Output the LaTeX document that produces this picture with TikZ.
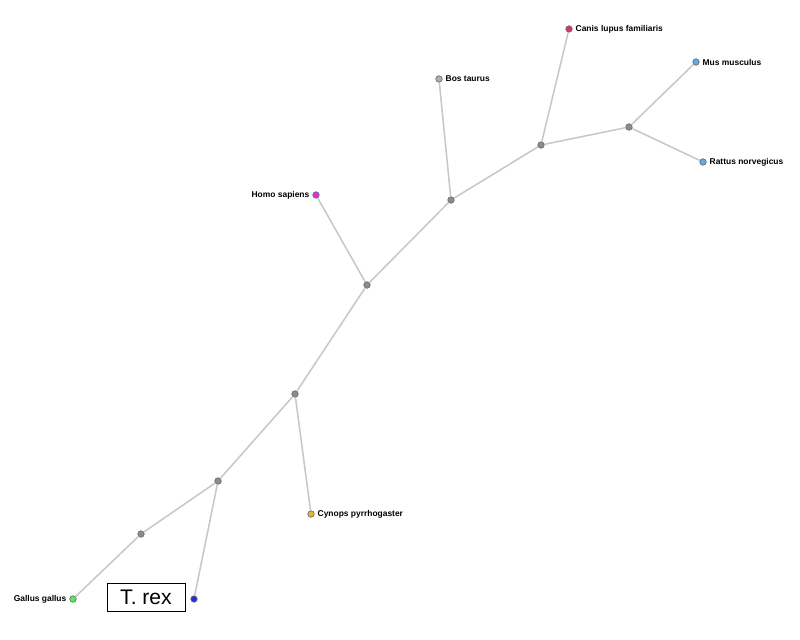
\documentclass[tikz,border=0pt]{standalone}
\usepackage{fontspec}
\setsansfont{Liberation Sans}
\definecolor{branchgray}{HTML}{C8C8C8}
\definecolor{dotgray}{HTML}{8C8C8C}
\begin{document}
\begin{tikzpicture}[x=0.025cm, y=-0.025cm,
  branch/.style={draw=branchgray, line width=1.1pt},
  dot/.style={circle, draw=dotgray!80!black, line width=0.5pt, inner sep=0pt, minimum size=4.6pt},
  taxon/.style={font=\sffamily\bfseries\fontsize{6}{7}\selectfont, inner sep=2pt}]
\useasboundingbox[fill=white] (0,0) rectangle (800,639);
% inner nodes
\node[dot, fill=dotgray] (rodents) at (629,127) {};
\node[dot, fill=dotgray] (carnrod) at (541,145) {};
\node[dot, fill=dotgray] (cowdog) at (451,200) {};
\node[dot, fill=dotgray] (mammals) at (367,285) {};
\node[dot, fill=dotgray] (tetra) at (295,394) {};
\node[dot, fill=dotgray] (sauria) at (218,481) {};
\node[dot, fill=dotgray] (birds) at (141,534) {};
% leaves
\node[dot, fill={rgb,255:red,224;green,48;blue,106}, label={[taxon]right:Canis lupus familiaris}] (canis) at (569,29) {};
\node[dot, fill={rgb,255:red,96;green,170;blue,236}, label={[taxon]right:Mus musculus}] (mus) at (696,62) {};
\node[dot, fill={rgb,255:red,96;green,170;blue,236}, label={[taxon]right:Rattus norvegicus}] (rattus) at (703,162) {};
\node[dot, fill=dotgray!70, label={[taxon]right:Bos taurus}] (bos) at (439,79) {};
\node[dot, fill={rgb,255:red,232;green,40;blue,232}, label={[taxon]left:Homo sapiens}] (homo) at (316,195) {};
\node[dot, fill={rgb,255:red,222;green,186;blue,48}, label={[taxon]right:Cynops pyrrhogaster}] (cynops) at (311,514) {};
\node[dot, fill={rgb,255:red,80;green,240;blue,80}, label={[taxon]left:Gallus gallus}] (gallus) at (73,599) {};
\node[dot, fill={rgb,255:red,40;green,40;blue,230}] (trex) at (194,599) {};
% label box
\node[draw=black, line width=0.6pt, font=\sffamily\fontsize{15}{17}\selectfont, minimum width=1.95cm, minimum height=0.7cm, inner sep=2pt] (trexlabel) at (146,597) {T. rex};
% branches
\draw[branch] (rodents) -- (mus);
\draw[branch] (rodents) -- (rattus);
\draw[branch] (carnrod) -- (rodents);
\draw[branch] (carnrod) -- (canis);
\draw[branch] (cowdog) -- (carnrod);
\draw[branch] (cowdog) -- (bos);
\draw[branch] (mammals) -- (cowdog);
\draw[branch] (mammals) -- (homo);
\draw[branch] (tetra) -- (mammals);
\draw[branch] (tetra) -- (cynops);
\draw[branch] (sauria) -- (tetra);
\draw[branch] (sauria) -- (trex);
\draw[branch] (birds) -- (sauria);
\draw[branch] (birds) -- (gallus);
\end{tikzpicture}
\end{document}
